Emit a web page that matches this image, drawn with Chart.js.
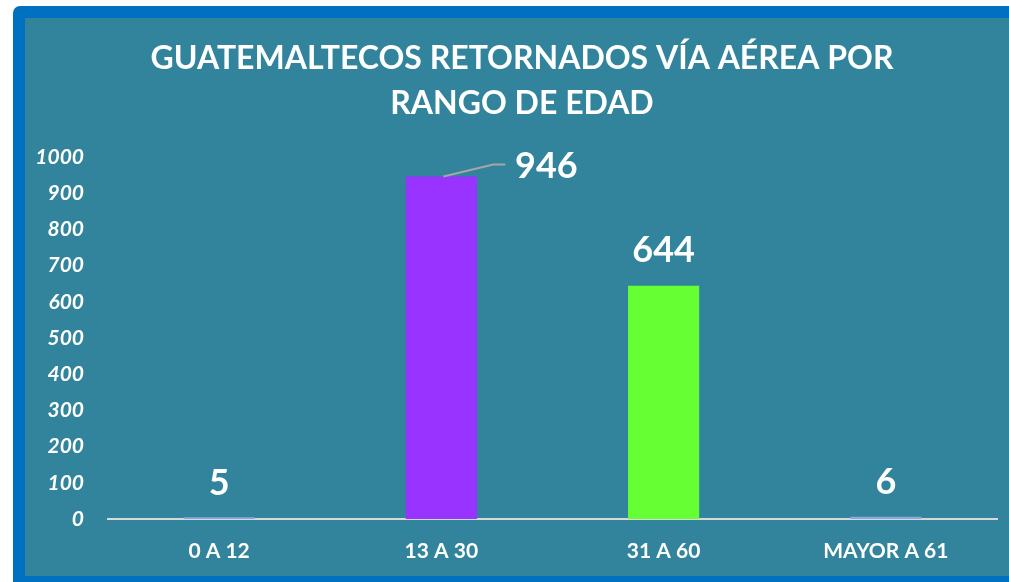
<!DOCTYPE html>
<html>
<head>
<meta charset="utf-8">
<script src="https://cdn.jsdelivr.net/npm/chart.js@4"></script>
<style>
  html, body { margin: 0; padding: 0; background: #fff; overflow: hidden; width: 1009px; height: 582px; }
  .frame {
    position: absolute; left: 13px; top: 6px;
    width: 1010px; height: 558px;
    border: 12px solid #0070C0;
    border-radius: 7px 0 0 0;
    background: #31849B;
  }
  #chart { position: absolute; left: 0; top: 0; }
</style>
</head>
<body>
<div class="frame">
  <canvas id="chart" width="984" height="558"></canvas>
</div>
<script>
const categories = ['0 A 12', '13 A 30', '31 A 60', 'MAYOR A 61'];
const retornados = [5, 946, 644, 6];
const barColors = ['#8EA9DB', '#9933FF', '#66FF33', '#8EA9DB'];
const yTicks = [0, 100, 200, 300, 400, 500, 600, 700, 800, 900, 1000];
const titleLines = ['GUATEMALTECOS RETORNADOS VÍA AÉREA POR', 'RANGO DE EDAD'];

// title drawn by hand so it can sit a bit right of the canvas centre
const chartTitle = {
    id: 'chartTitle',
    afterDraw(chart, args, opts) {
        const ctx = chart.ctx;
        ctx.save();
        ctx.fillStyle = '#fff';
        ctx.font = 'bold 32px Lato';
        ctx.textAlign = 'center';
        ctx.textBaseline = 'middle';
        opts.lines.forEach((line, i) => {
            ctx.fillText(line, opts.x, opts.y + i * 45);
        });
        ctx.restore();
    }
};

// value labels above bars, the big one pushed aside with a leader line
const valueLabels = {
    id: 'valueLabels',
    afterDatasetsDraw(chart, args, opts) {
        const ctx = chart.ctx;
        const meta = chart.getDatasetMeta(0);
        ctx.save();
        ctx.fillStyle = '#fff';
        ctx.font = 'bold 36px Lato';
        ctx.textAlign = 'center';
        ctx.textBaseline = 'middle';
        meta.data.forEach((bar, i) => {
            const off = opts.offsets[i];
            if (off.leader) {
                ctx.strokeStyle = '#A6A6A6';
                ctx.lineWidth = 2;
                ctx.beginPath();
                ctx.moveTo(bar.x + 2, bar.y);
                ctx.lineTo(bar.x + 52, bar.y - 12);
                ctx.lineTo(bar.x + 64, bar.y - 12);
                ctx.stroke();
            }
            ctx.fillText(chart.data.datasets[0].data[i], bar.x + off.dx, bar.y + off.dy);
        });
        ctx.restore();
    }
};

const data = {
    labels: categories,
    datasets: [{
        data: retornados,
        backgroundColor: barColors,
        categoryPercentage: 1,
        barPercentage: 0.32,
    }]
};

const config = {
    type: 'bar',
    data: data,
    plugins: [chartTitle, valueLabels],
    options: {
        responsive: false,
        animation: false,
        devicePixelRatio: 1,
        layout: { padding: { left: 0, right: 12, top: 139, bottom: 0 } },
        plugins: {
            legend: { display: false },
            tooltip: { enabled: false },
            title: { display: false },
            chartTitle: { lines: titleLines, x: 497, y: 41 },
            valueLabels: {
                offsets: [
                    { dx: 0, dy: -34 },
                    { dx: 105, dy: -10, leader: true },
                    { dx: 0, dy: -35 },
                    { dx: 0, dy: -34 },
                ]
            }
        },
        scales: {
            x: {
                grid: { display: false, drawTicks: false },
                border: { display: true, color: '#D9D9D9', width: 2 },
                ticks: {
                    color: '#fff',
                    padding: 20,
                    maxRotation: 0,
                    font: { family: 'Lato', size: 21, weight: 'bold' },
                },
                afterFit(scale) { scale.height = 57; },
            },
            y: {
                min: 0,
                max: 1000,
                grid: { display: false, drawTicks: false },
                border: { display: false },
                afterBuildTicks(scale) { scale.ticks = yTicks.map(v => ({ value: v })); },
                ticks: {
                    color: '#fff',
                    padding: 24,
                    callback: (v) => String(v),
                    font: { family: 'Lato', size: 21, weight: 'bold', style: 'italic' },
                },
                afterFit(scale) { scale.width = 83; },
            }
        }
    }
};

const myChart = new Chart(document.getElementById('chart'), config);
</script>
</body>
</html>
